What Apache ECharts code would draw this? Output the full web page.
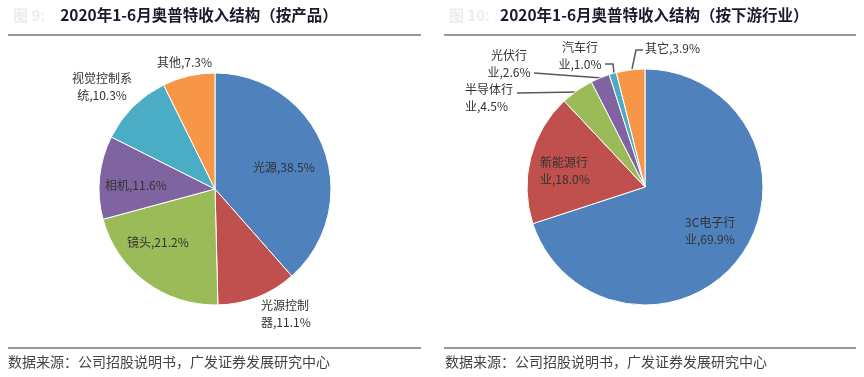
<!DOCTYPE html>
<html>
<head>
<meta charset="utf-8">
<script src="https://cdn.jsdelivr.net/npm/echarts@6/dist/echarts.min.js"></script>
<style>
  html, body { margin: 0; padding: 0; background: #fff; }
  #main { width: 864px; height: 377px; }
</style>
</head>
<body>
<div id="main"></div>
<script>
// 按产品
const productNames = ['光源', '光源控制器', '镜头', '相机', '视觉控制系统', '其他'];
const productValues = [38.5, 11.1, 21.2, 11.6, 10.3, 7.3];
const productLabels = ['光源,38.5%', '光源控制\n器,11.1%', '镜头,21.2%', '相机,11.6%', '视觉控制系\n统,10.3%', '其他,7.3%'];
// 按下游行业
const industryNames = ['3C电子行业', '新能源行业', '半导体行业', '光伏行业', '汽车行业', '其它'];
const industryValues = [69.9, 18.0, 4.5, 2.6, 1.0, 3.9];
const industryLabels = ['3C电子行\n业,69.9%', '新能源行\n业,18.0%', '半导体行\n业,4.5%', '光伏行\n业,2.6%', '汽车行\n业,1.0%', '其它,3.9%'];

const colors = ['#4F81BD', '#C0504D', '#9BBB59', '#8064A2', '#4BACC6', '#F79646'];
const titles = ['2020年1-6月奥普特收入结构（按产品）', '2020年1-6月奥普特收入结构（按下游行业）'];
const source = '数据来源：公司招股说明书，广发证券发展研究中心';

const cjk = '"Noto Sans CJK SC", sans-serif';

// 标签摆放位置（像素），贴近原图
const productLabelPos = [
  { x: 253, y: 167, align: 'left' },
  { x: 261, y: 314, align: 'left' },
  { x: 127, y: 242, align: 'left' },
  { x: 105, y: 185, align: 'left' },
  { x: 102, y: 87, align: 'center' },
  { x: 157, y: 62, align: 'left' }
];
const industryLabelPos = [
  { x: 685, y: 231, align: 'left' },
  { x: 540, y: 171, align: 'left' },
  { x: 465, y: 98, align: 'left', line: [[578, 92], [517, 93]] },
  { x: 509, y: 64, align: 'center', line: [[602, 78], [534, 73]] },
  { x: 580, y: 56, align: 'center', line: [[614, 73], [613, 64], [605, 64]] },
  { x: 645, y: 48, align: 'left', line: [[632, 69], [636, 50], [643, 50]] }
];

const productData = productNames.map((n, i) => ({
  name: n,
  value: productValues[i],
  label: { formatter: productLabels[i] },
  labelLine: { show: false }
}));

const industryData = industryNames.map((n, i) => ({
  name: n,
  value: industryValues[i],
  label: { formatter: industryLabels[i] },
  labelLine: { show: !!industryLabelPos[i].line }
}));

const chart = echarts.init(document.getElementById('main'));

const labelStyle = {
  position: 'outside',
  color: '#333',
  fontFamily: cjk,
  fontSize: 12,
  lineHeight: 17,
  overflow: 'none',
  width: null
};

function layoutWith(posList) {
  return function (params) {
    const p = posList[params.dataIndex];
    const out = { x: p.x, y: p.y, align: p.align, verticalAlign: 'middle', moveOverlap: false, hideOverlap: false };
    if (p.line) out.labelLinePoints = p.line;
    return out;
  };
}

const headRich = {
  p: { fontSize: 15, color: '#ececec', fontWeight: 'bold', fontFamily: cjk },
  t: { fontSize: 15.5, color: '#1a1a2e', fontWeight: 'bold', fontFamily: cjk }
};

chart.setOption({
  animation: false,
  color: colors,
  title: [
    { text: '{p|图 9:}   {t|' + titles[0] + '}', left: 8, top: 1, textStyle: { rich: headRich } },
    { text: '{p|图 10:}  {t|' + titles[1] + '}', left: 444, top: 1, textStyle: { rich: headRich } },
    {
      text: source, left: 3, top: 350,
      textStyle: { fontSize: 14, color: '#444', fontWeight: 'normal', fontFamily: cjk }
    },
    {
      text: source, left: 440, top: 350,
      textStyle: { fontSize: 14, color: '#444', fontWeight: 'normal', fontFamily: cjk }
    }
  ],
  graphic: [
    { type: 'line', shape: { x1: 8, y1: 35, x2: 421, y2: 35 }, style: { stroke: '#999', lineWidth: 2 } },
    { type: 'line', shape: { x1: 444, y1: 35, x2: 856, y2: 35 }, style: { stroke: '#999', lineWidth: 2 } },
    { type: 'line', shape: { x1: 8, y1: 348, x2: 421, y2: 348 }, style: { stroke: '#999', lineWidth: 2 } },
    { type: 'line', shape: { x1: 444, y1: 348, x2: 856, y2: 348 }, style: { stroke: '#999', lineWidth: 2 } }
  ],
  series: [
    {
      type: 'pie',
      center: [215, 189],
      radius: 116,
      startAngle: 90,
      clockwise: true,
      itemStyle: { borderColor: '#fff', borderWidth: 1 },
      label: labelStyle,
      labelLayout: layoutWith(productLabelPos),
      data: productData
    },
    {
      type: 'pie',
      center: [645, 187],
      radius: 118,
      startAngle: 90,
      clockwise: true,
      itemStyle: { borderColor: '#fff', borderWidth: 1 },
      label: labelStyle,
      labelLine: { lineStyle: { color: '#595959', width: 1.5 } },
      labelLayout: layoutWith(industryLabelPos),
      data: industryData
    }
  ]
});
</script>
</body>
</html>
